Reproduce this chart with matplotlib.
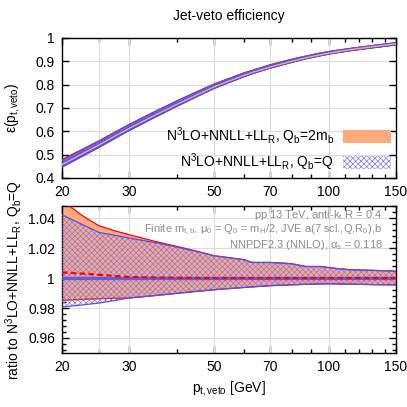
import matplotlib
matplotlib.use("Agg")
import matplotlib.pyplot as plt
import numpy as np

plt.rcParams['font.family'] = ['Liberation Sans', 'DejaVu Sans']
plt.rcParams['mathtext.fontset'] = 'custom'
plt.rcParams['mathtext.rm'] = 'Liberation Sans'
plt.rcParams['mathtext.it'] = 'Liberation Sans'
plt.rcParams['font.size'] = 10
plt.rcParams['hatch.linewidth'] = 0.5

# p_t,veto nodes [GeV]
pt = [20, 22.5, 25, 27.5, 30, 35, 40, 45, 50, 60, 63, 70, 75, 80, 87, 95, 100, 105, 114, 131, 150]

# efficiency, Qb=Q central
eff = [0.455, 0.50, 0.54, 0.578, 0.612, 0.668, 0.715, 0.755, 0.790, 0.840, 0.852, 0.875, 0.888,
       0.900, 0.915, 0.928, 0.935, 0.941, 0.950, 0.963, 0.975]

# ratio bands to the Qb=Q central value
q_hi = [1.0422, 1.0360, 1.0304, 1.0285, 1.0267, 1.0237, 1.0207, 1.0178, 1.0149, 1.0122, 1.0104,
        1.0104, 1.0100, 1.0095, 1.0077, 1.0077, 1.0070, 1.0063, 1.0055, 1.0051, 1.0046]
q_lo = [0.9807, 0.9820, 0.9833, 0.9850, 0.9867, 0.9883, 0.9898, 0.9911, 0.9922, 0.9937, 0.9941,
        0.9949, 0.9952, 0.9955, 0.9958, 0.9961, 0.9962, 0.9961, 0.9959, 0.9956, 0.9955]
m_hi = [1.0520, 1.0420, 1.0349, 1.0315, 1.0289, 1.0245, 1.0211, 1.0180, 1.0149, 1.0122, 1.0104,
        1.0104, 1.0100, 1.0095, 1.0077, 1.0077, 1.0070, 1.0063, 1.0055, 1.0051, 1.0046]
m_lo = [0.9852, 0.9857, 0.9862, 0.9865, 0.9867, 0.9883, 0.9898, 0.9911, 0.9922, 0.9937, 0.9941,
        0.9949, 0.9952, 0.9955, 0.9958, 0.9961, 0.9962, 0.9961, 0.9959, 0.9956, 0.9955]
m_c = [1.0037, 1.0030, 1.0022, 1.0014, 1.0007, 1.0004, 1.0002, 1.0001, 1.0, 1.0, 1.0,
       1.0, 1.0, 1.0, 1.0, 1.0, 1.0, 1.0, 1.0, 1.0, 1.0]

lab_m = r'N$^3$LO+NNLL+LL$_R$, Q$_b$=2m$_b$'
lab_q = r'N$^3$LO+NNLL+LL$_R$, Q$_b$=Q'

orange = '#FFAA78'
blue = '#5050F0'
hatchc = '#7878FF'
red = '#FF0000'

x = np.array(pt)
e = np.array(eff)

fig = plt.figure(figsize=(4.07, 4.07), dpi=100)
ax1 = fig.add_axes([0.152, 0.5627, 0.821, 0.344])
ax2 = fig.add_axes([0.152, 0.1327, 0.821, 0.361])


def draw(ax, scale, top=False):
    ax.fill_between(x, np.array(m_lo) * scale, np.array(m_hi) * scale, color=orange, lw=0,
                    label=lab_m, zorder=2)
    ax.plot(x, np.array(m_hi) * scale, color=red, lw=0.9, zorder=3)
    ax.plot(x, np.array(m_lo) * scale, color=red, lw=0.9, zorder=3)
    ax.fill_between(x, np.array(q_lo) * scale, np.array(q_hi) * scale, facecolor='none',
                    edgecolor=hatchc, hatch='xxxxxx', lw=0, label=lab_q, zorder=4)
    if top:
        # the narrow hatched band reads as nearly solid blue at this size
        ax.fill_between(x, np.array(q_lo) * scale, np.array(q_hi) * scale, color='#4646F5',
                        alpha=0.75, lw=0, zorder=4)
    ax.plot(x, np.array(q_hi) * scale, color=blue, lw=0.9, zorder=5)
    ax.plot(x, np.array(q_lo) * scale, color=blue, lw=0.9, zorder=5)
    ax.plot(x, np.ones_like(x) * scale, color=blue, lw=2.4, alpha=0.85, zorder=6)
    if top:
        ax.plot(x, np.array(m_c) * scale, color=orange, lw=1.0, zorder=7)
    else:
        ax.plot(x, np.array(m_c) * scale, color=red, lw=1.6, ls=(0, (2.5, 1.5)), zorder=7)


def style(ax):
    ax.set_xscale('log')
    ax.set_xlim(20, 150)
    ax.set_xticks([20, 30, 50, 70, 100, 150])
    ax.set_xticklabels(['20', '30', '50', '70', '100', '150'])
    ax.set_xticks([25, 40, 60, 80, 90, 110, 120, 130, 140], minor=True)
    ax.xaxis.set_minor_formatter(matplotlib.ticker.NullFormatter())
    for v in [25, 30, 50, 70, 100]:
        ax.axvline(v, color='#dcdcdc', lw=0.8, zorder=1)
    ax.tick_params(which='both', direction='in', top=True, right=True, width=1.0, pad=5)
    ax.tick_params(which='major', length=5)
    ax.tick_params(which='minor', length=3)
    for s in ax.spines.values():
        s.set_linewidth(1.0)


draw(ax1, e, top=True)
style(ax1)
ax1.set_ylim(0.4, 1.0)
ax1.set_yticks(np.arange(0.4, 1.01, 0.1))
ax1.set_yticklabels(['0.4', '0.5', '0.6', '0.7', '0.8', '0.9', '1'])
ax1.yaxis.grid(True, color='#dcdcdc', lw=0.8, zorder=1)
ax1.set_axisbelow(True)
ax1.set_ylabel(r'ε(p$_{t,\rm veto}$)', labelpad=10)
ax1.set_title('Jet-veto efficiency', fontsize=10, pad=13)
ax1.legend(loc='lower right', frameon=False, markerfirst=False, handlelength=3.5,
           handleheight=1.0, labelspacing=0.3, borderaxespad=0.25, borderpad=0.1,
           handletextpad=0.6)

draw(ax2, 1.0)
style(ax2)
ax2.set_ylim(0.95, 1.048)
ax2.set_yticks([0.96, 0.98, 1.0, 1.02, 1.04])
ax2.set_yticklabels(['0.96', '0.98', '1', '1.02', '1.04'])
ax2.set_yticks(np.arange(0.952, 1.048, 0.004), minor=True)
ax2.yaxis.grid(True, color='#dcdcdc', lw=0.8, zorder=1)
ax2.set_axisbelow(True)
ax2.set_xlabel(r'p$_{t,\rm veto}$ [GeV]', labelpad=4)
ax2.set_ylabel(r'ratio to N$^3$LO+NNLL+LL$_R$, Q$_b$=Q', labelpad=2)

notes = [r'pp 13 TeV, anti-k$_t$ R = 0.4',
         r'Finite m$_{t,b}$, $\mu_0$ = Q$_0$ = m$_H$/2, JVE a(7 scl.,Q,R$_0$),b',
         r'NNPDF2.3 (NNLO), $\alpha_s$ = 0.118']
for i, t in enumerate(notes):
    ax2.text(0.96, 0.937 - i * 0.102, t, transform=ax2.transAxes, ha='right', va='center',
             color='#8c8c8c', fontsize=8, zorder=8)

fig.savefig('out.png', dpi=100)
